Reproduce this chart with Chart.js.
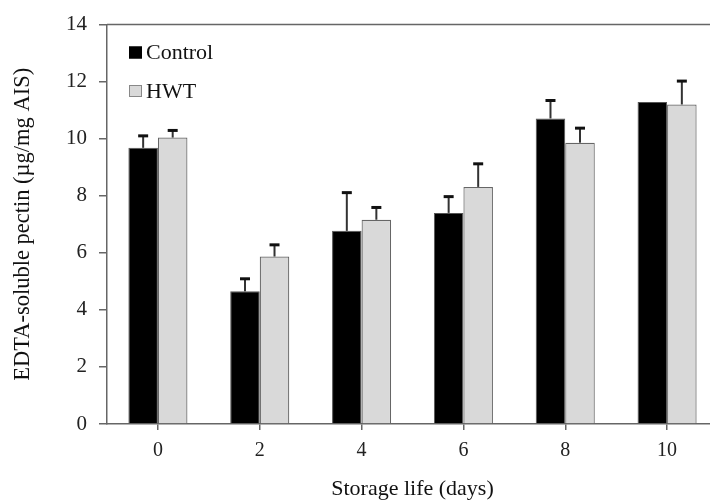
<!DOCTYPE html>
<html>
<head>
<meta charset="utf-8">
<script src="https://cdn.jsdelivr.net/npm/chart.js@4"></script>
<style>
html,body{margin:0;padding:0;background:#fff;overflow:hidden;}
#wrap{width:720px;height:502px;position:relative;}
</style>
</head>
<body>
<div id="wrap"><canvas id="chart" width="720" height="502"></canvas></div>
<script>
// ================= DATA =================
const days = ["0","2","4","6","8","10"];
const control = [9.68, 4.65, 6.77, 7.40, 10.71, 11.29];
const hwt = [10.04, 5.87, 7.16, 8.31, 9.86, 11.20];
const controlErr = [0.42, 0.44, 1.34, 0.57, 0.63, 0];
const hwtErr = [0.25, 0.41, 0.43, 0.81, 0.51, 0.82];
const yTicks = [0,2,4,6,8,10,12,14];

const serif = "'Liberation Serif','DejaVu Serif',serif";

// ================= ERROR BARS =================
const errorBars = {
id:"errorBars",
afterDatasetsDraw(chart){
let ctx = chart.ctx;
let y = chart.scales.y;
let errs = [controlErr, hwtErr];
chart.data.datasets.forEach((ds,i)=>{
let meta = chart.getDatasetMeta(i);
meta.data.forEach((bar,j)=>{
let e = errs[i][j];
if(!e) return;
let top = y.getPixelForValue(ds.data[j]+e);
ctx.save();
ctx.strokeStyle="#333";
ctx.lineWidth=2;
ctx.beginPath();
ctx.moveTo(bar.x, bar.y);
ctx.lineTo(bar.x, top);
ctx.stroke();
ctx.strokeStyle="#111";
ctx.lineWidth=3;
ctx.beginPath();
ctx.moveTo(bar.x-5, top);
ctx.lineTo(bar.x+5, top);
ctx.stroke();
ctx.restore();
});
});
}
};

// ================= LEGEND + TOP LINE =================
const extras = {
id:"extras",
afterDraw(chart){
let ctx = chart.ctx;
let area = chart.chartArea;
ctx.save();
ctx.strokeStyle="#666";
ctx.lineWidth=1.5;
ctx.beginPath();
ctx.moveTo(area.left, area.top);
ctx.lineTo(area.right, area.top);
ctx.stroke();

let items = [
{label:"Control", fill:"#000", border:"#000", y:52.5},
{label:"HWT", fill:"#d9d9d9", border:"#888", y:91}
];
ctx.font = "22px " + serif;
ctx.textBaseline = "middle";
items.forEach(it=>{
ctx.fillStyle = it.fill;
ctx.fillRect(129, it.y-6, 13, 12);
ctx.strokeStyle = it.border;
ctx.lineWidth = 1;
ctx.strokeRect(129.5, it.y-5.5, 12, 11);
ctx.fillStyle = "#111";
ctx.fillText(it.label, 146, it.y+1);
});
ctx.restore();
}
};

new Chart(document.getElementById("chart"),{
type:"bar",
data:{
labels:days,
datasets:[
{label:"Control", data:control, backgroundColor:"#000", borderColor:"#555", borderWidth:1,
 categoryPercentage:0.58, barPercentage:1},
{label:"HWT", data:hwt, backgroundColor:"#d9d9d9", borderColor:"#666", borderWidth:1.2,
 categoryPercentage:0.58, barPercentage:1}
]
},
options:{
responsive:false,
animation:false,
layout:{padding:{top:24, right:2, left:0, bottom:0}},
plugins:{legend:{display:false}, tooltip:{enabled:false}},
scales:{
x:{
offset:true,
grid:{offset:false, drawOnChartArea:false, tickLength:6, color:"#666", lineWidth:1.5},
border:{color:"#666", width:1.5},
ticks:{font:{family:serif, size:20}, color:"#222", padding:9},
title:{display:true, text:"Storage life (days)", font:{family:serif, size:22}, color:"#111", padding:{top:0,bottom:0}},
afterFit(s){ s.height = 78; }
},
y:{
min:0, max:14,
afterBuildTicks(s){ s.ticks = yTicks.map(v=>({value:v})); },
grid:{drawOnChartArea:false, tickLength:8, color:"#666", lineWidth:1.5},
border:{color:"#666", width:1.5},
ticks:{font:{family:serif, size:21}, color:"#222", padding:12},
title:{display:true, text:"EDTA-soluble pectin (µg/mg AIS)", font:{family:serif, size:22.5}, color:"#111", padding:{top:10,bottom:0}},
afterFit(s){ s.width = 107; }
}
}
},
plugins:[errorBars, extras]
});
</script>
</body>
</html>
